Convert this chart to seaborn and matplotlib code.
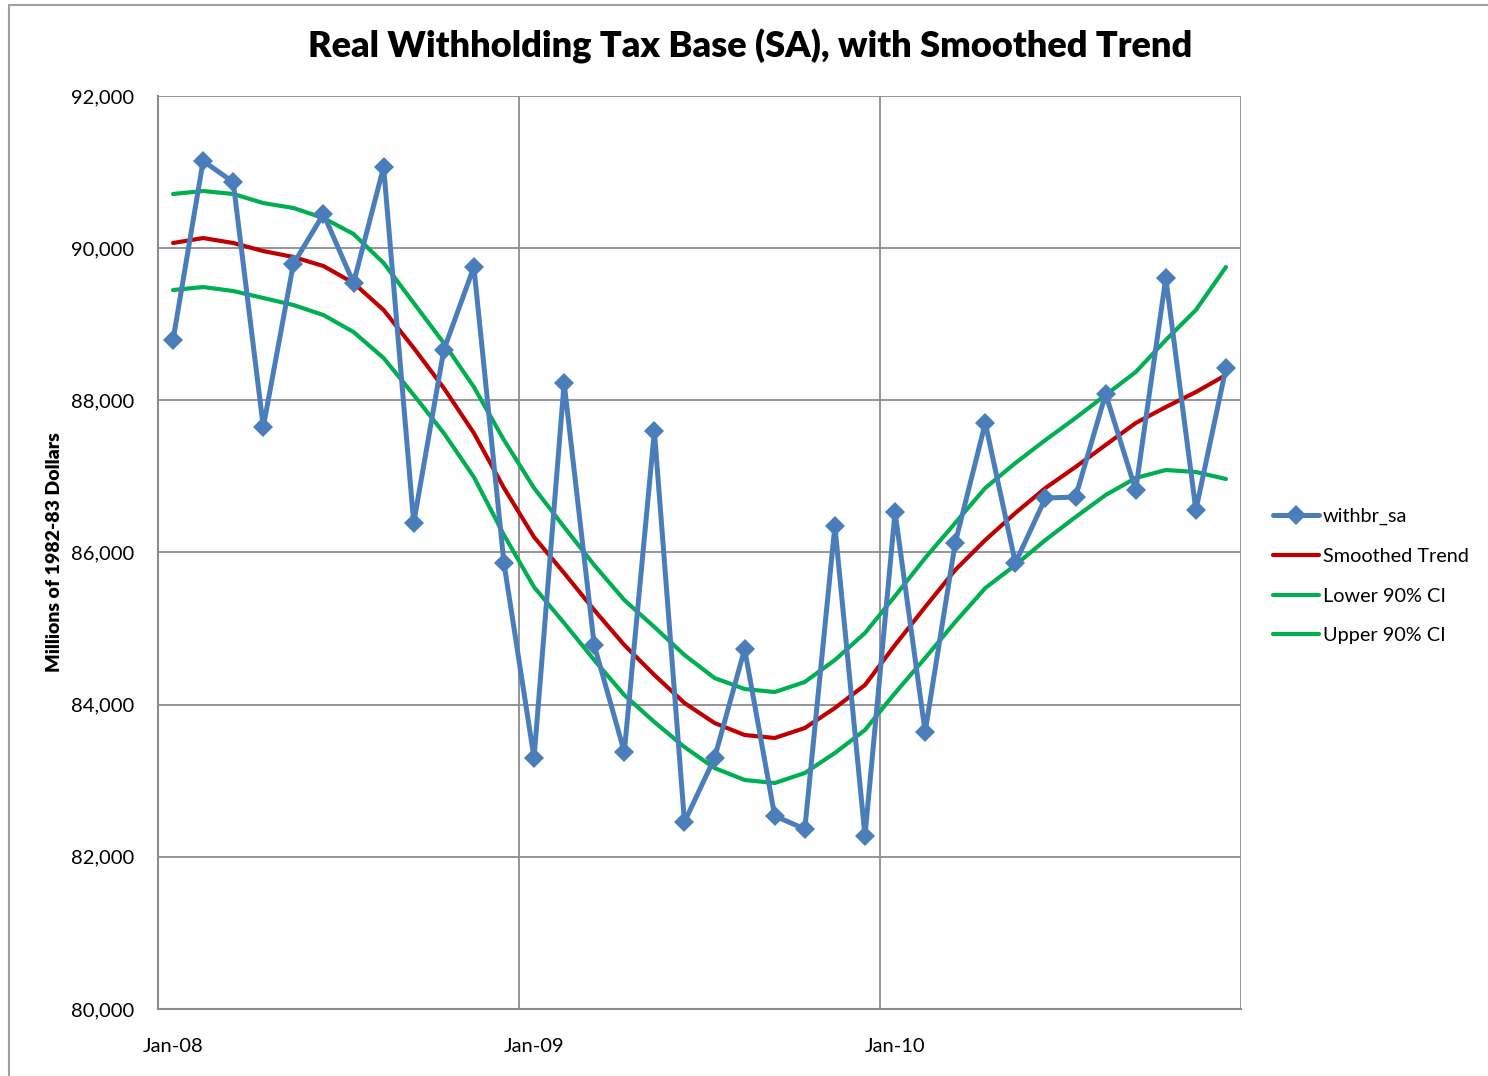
import numpy as np
import pandas as pd
import matplotlib
matplotlib.use("Agg")
import matplotlib.pyplot as plt
import matplotlib.ticker as mticker
from matplotlib.lines import Line2D
import seaborn as sns

# valeurs (millions de dollars 1982-83), jan-08 a dec-10
months = pd.date_range("2008-01-01", periods=36, freq="MS")
month_labels = ["Jan-08", "Jan-09", "Jan-10"]

withbr_sa = [88793, 91145, 90869, 87649, 89792, 90449, 89542, 91066, 86388, 88661, 89752, 85862,
             83299, 88228, 84784, 83378, 87597, 82458, 83299, 84731, 82537, 82366, 86348, 82274,
             86532, 83641, 86125, 87702, 85862, 86716, 86729, 88083, 86821, 89608, 86558, 88425]
smoothed = [90068, 90133, 90068, 89962, 89884, 89765, 89542, 89187, 88688, 88162, 87570, 86848,
            86203, 85730, 85244, 84784, 84390, 84022, 83759, 83601, 83562, 83693, 83956, 84258,
            84784, 85283, 85770, 86164, 86519, 86848, 87124, 87413, 87702, 87912, 88109, 88333]
lower_ci = [89450, 89489, 89437, 89345, 89253, 89121, 88898, 88556, 88070, 87570, 86992, 86230,
            85546, 85073, 84587, 84127, 83772, 83443, 83167, 83010, 82970, 83102, 83365, 83667,
            84153, 84613, 85086, 85533, 85835, 86164, 86466, 86755, 86979, 87084, 87058, 86966]
upper_ci = [90712, 90751, 90712, 90593, 90528, 90396, 90186, 89805, 89279, 88753, 88175, 87478,
            86848, 86335, 85835, 85375, 85021, 84653, 84350, 84206, 84166, 84298, 84587, 84942,
            85428, 85927, 86388, 86848, 87176, 87478, 87768, 88070, 88372, 88793, 89187, 89752]

df = pd.DataFrame({
    "month": months,
    "pos": np.arange(len(months)),
    "withbr_sa": withbr_sa,
    "Smoothed Trend": smoothed,
    "Lower 90% CI": lower_ci,
    "Upper 90% CI": upper_ci,
})

BLUE = "#4A7EBB"
RED = "#C00000"
GREEN = "#00B050"
GRID = "#8C8C8C"

sns.set_style("white", {"text.color": "black", "axes.labelcolor": "black",
                        "xtick.color": "black", "ytick.color": "black"})
plt.rcParams["font.family"] = ["Lato", "DejaVu Sans"]

fig = plt.figure(figsize=(14.88, 10.76), dpi=100)
ax = fig.add_axes([158 / 1488, 1 - 1009 / 1076, (1241 - 158) / 1488, (1009 - 96) / 1076])

sns.lineplot(data=df, x="pos", y="withbr_sa", ax=ax, color=BLUE, lw=3.6,
             marker="D", markersize=10, markeredgewidth=0, zorder=5)
sns.lineplot(data=df, x="pos", y="Smoothed Trend", ax=ax, color=RED, lw=3.0, zorder=4)
sns.lineplot(data=df, x="pos", y="Lower 90% CI", ax=ax, color=GREEN, lw=3.0, zorder=3)
sns.lineplot(data=df, x="pos", y="Upper 90% CI", ax=ax, color=GREEN, lw=3.0, zorder=3)

ax.set_xlim(-0.5, 35.5)
ax.set_ylim(80000, 92000)
ax.yaxis.set_major_locator(mticker.MultipleLocator(2000))
ax.yaxis.set_major_formatter(mticker.FuncFormatter(lambda v, p: f"{int(v):,}"))

# axe de categories facon Excel: traits entre les annees, etiquettes sur janvier
ax.set_xticks([-0.5, 11.5, 23.5, 35.5])
ax.set_xticklabels([])
ax.set_xticks([0, 12, 24], minor=True)
ax.set_xticklabels(month_labels, minor=True)
ax.tick_params(axis="x", which="minor", length=0, pad=21, labelsize=14.5, labelcolor="black")
ax.tick_params(axis="x", which="major", length=7, width=1.3, color=GRID, direction="out")
ax.tick_params(axis="y", length=7, width=1.3, color=GRID, direction="out", pad=10,
               labelsize=14.5, labelcolor="black")

ax.grid(True, which="major", color=GRID, lw=1.3)
for side in ["top", "right"]:
    ax.spines[side].set_visible(False)
for side in ["left", "bottom"]:
    ax.spines[side].set_color(GRID)
    ax.spines[side].set_linewidth(1.5)

ax.set_xlabel("")
ax.set_ylabel("Millions of 1982-83 Dollars", fontsize=14, fontweight="heavy", labelpad=6,
              color="black")

fig.text(0.504, 1 - 46 / 1076, "Real Withholding Tax Base (SA), with Smoothed Trend",
         ha="center", va="center", fontsize=26, fontweight="heavy", color="black")

handles = [
    Line2D([], [], color=BLUE, lw=3.6, marker="D", markersize=10, markeredgewidth=0),
    Line2D([], [], color=RED, lw=3.0),
    Line2D([], [], color=GREEN, lw=3.0),
    Line2D([], [], color=GREEN, lw=3.0),
]
leg = fig.legend(handles, ["withbr_sa", "Smoothed Trend", "Lower 90% CI", "Upper 90% CI"],
                 loc="center left", bbox_to_anchor=(1255 / 1488, 1 - 576 / 1076), frameon=False,
                 fontsize=14.3, handlelength=2.3, handletextpad=0.2, labelspacing=1.15)
for t in leg.get_texts():
    t.set_color("black")

# cadre de la zone de graphique
fig.add_artist(Line2D([9 / 1488, 9 / 1488], [0, 1 - 5 / 1076], color="#A0A0A0", lw=1.5))
fig.add_artist(Line2D([9 / 1488, 1], [1 - 5 / 1076, 1 - 5 / 1076], color="#A0A0A0", lw=1.5))

fig.savefig("out.png", dpi=100)
